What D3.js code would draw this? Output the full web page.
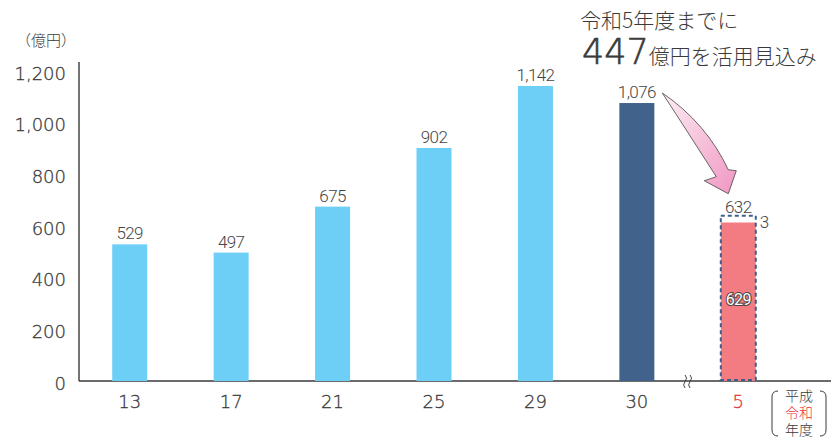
<!DOCTYPE html>
<html>
<head>
<meta charset="utf-8">
<script src="https://cdn.jsdelivr.net/npm/d3@7"></script>
<style>
  body { margin: 0; background: #fff; }
</style>
</head>
<body>
<div id="chart"></div>
<script>
// fiscal years (Heisei 13..30, Reiwa 5)
const years = ["13", "17", "21", "25", "29", "30", "5"];
const amounts = [529, 497, 675, 902, 1142, 1076, 632];
// Reiwa 5 split: used + remaining
const reiwaParts = [629, 3];
const yTicks = [0, 200, 400, 600, 800, 1000, 1200];
const legendLines = ["平成", "令和", "年度"];

const width = 831, height = 439;
const lightBlue = "#6dcff6", darkBlue = "#41628b", red = "#f27c82", ink = "#3a3a3a";
const numFont = "'DejaVu Sans ExtraLight', 'DejaVu Sans'";

const svg = d3.select("#chart")
    .append("svg")
    .attr("width", width)
    .attr("height", height)
    .style("font-family", "'Noto Sans CJK JP', sans-serif")
    .style("font-weight", 300);

const x = d3.scaleBand()
    .domain(years)
    .range([79, 789])
    .paddingInner(0.655)
    .paddingOuter(0.3275);

const y = d3.scaleLinear()
    .domain([0, 1200])
    .range([381, 71]);

const bw = x.bandwidth();

// axes lines
svg.append("line")
    .attr("x1", 79).attr("x2", 79)
    .attr("y1", y(1200) - 9).attr("y2", y(0))
    .attr("stroke", ink).attr("stroke-width", 1.4);

svg.append("line")
    .attr("x1", 79).attr("x2", width)
    .attr("y1", y(0)).attr("y2", y(0))
    .attr("stroke", ink).attr("stroke-width", 1.4);

// y tick labels
svg.selectAll(".ytick")
    .data(yTicks)
    .join("text")
    .attr("class", "ytick")
    .attr("x", 66)
    .attr("y", d => y(d) + 2)
    .attr("text-anchor", "end")
    .attr("dominant-baseline", "central")
    .style("font-family", numFont)
    .attr("font-size", "18px")
    .attr("fill", ink)
    .attr("stroke", ink)
    .attr("stroke-width", 0.3)
    .text(d => d3.format(",")(d));

svg.append("text")
    .attr("x", 46).attr("y", 46)
    .attr("text-anchor", "middle")
    .attr("font-size", "15px")
    .attr("fill", ink)
    .text("（億円）");

// x labels
svg.selectAll(".xtick")
    .data(years)
    .join("text")
    .attr("class", "xtick")
    .attr("x", d => x(d) + bw / 2)
    .attr("y", 408)
    .attr("text-anchor", "middle")
    .style("font-family", numFont)
    .attr("font-size", "18px")
    .attr("fill", d => d === "5" ? "#e8303a" : ink)
    .attr("stroke", d => d === "5" ? "#e8303a" : ink)
    .attr("stroke-width", 0.3)
    .text(d => d);

// Heisei bars
const heisei = years.slice(0, 6).map((d, i) => ({year: d, value: amounts[i]}));

svg.selectAll(".bar")
    .data(heisei)
    .join("rect")
    .attr("class", "bar")
    .attr("x", d => x(d.year))
    .attr("y", d => y(d.value))
    .attr("width", bw)
    .attr("height", d => y(0) - y(d.value))
    .attr("fill", d => d.year === "30" ? darkBlue : lightBlue);

svg.selectAll(".vlabel")
    .data(heisei)
    .join("text")
    .attr("class", "vlabel")
    .attr("x", d => x(d.year) + bw / 2)
    .attr("y", d => y(d.value) - 5)
    .attr("text-anchor", "middle")
    .style("font-family", "Roboto")
    .attr("font-size", "17px")
    .attr("letter-spacing", "-0.6px")
    .attr("fill", "#444")
    .text(d => d3.format(",")(d.value));

// Reiwa 5 bar: used part + dashed total outline
const rx = x("5");
const total = reiwaParts[0] + reiwaParts[1];
svg.append("rect")
    .attr("x", rx)
    .attr("y", y(reiwaParts[0]) + 4)
    .attr("width", bw)
    .attr("height", y(0) - y(reiwaParts[0]) - 4)
    .attr("fill", red);

svg.append("rect")
    .attr("x", rx)
    .attr("y", y(total) - 2)
    .attr("width", bw)
    .attr("height", y(0) - y(total) + 1)
    .attr("fill", "none")
    .attr("stroke", "#3d5f8a")
    .attr("stroke-width", 2)
    .attr("stroke-dasharray", "4,3");

svg.append("text")
    .attr("x", rx + bw / 2)
    .attr("y", y(total) - 5)
    .attr("text-anchor", "middle")
    .style("font-family", "Roboto")
    .attr("font-size", "17px")
    .attr("letter-spacing", "-0.6px")
    .attr("fill", "#444")
    .text(total);

svg.append("text")
    .attr("x", rx + bw + 4)
    .attr("y", y(total) + 4)
    .attr("dominant-baseline", "central")
    .style("font-family", "Roboto")
    .attr("font-size", "17px")
    .attr("fill", "#444")
    .text(reiwaParts[1]);

svg.append("text")
    .attr("x", rx + bw / 2)
    .attr("y", (y(reiwaParts[0]) + y(0)) / 2)
    .attr("text-anchor", "middle")
    .attr("dominant-baseline", "central")
    .style("font-family", "Roboto")
    .style("font-weight", 400)
    .attr("font-size", "16px")
    .attr("letter-spacing", "-0.6px")
    .attr("fill", "#fff")
    .attr("stroke", "#444")
    .attr("stroke-width", 2)
    .attr("paint-order", "stroke")
    .text(reiwaParts[0]);

// break mark on the baseline
const bx = (x("30") + bw + rx) / 2;
[-2.5, 2.5].forEach(off => {
    svg.append("path")
        .attr("d", `M${bx + off},${y(0) - 6} q3,3 0,6.5 q-3,3.5 0,6.5`)
        .attr("fill", "none")
        .attr("stroke", "#444")
        .attr("stroke-width", 1);
});

// arrow from 1,076 to 632
const defs = svg.append("defs");
const grad = defs.append("linearGradient")
    .attr("id", "pink")
    .attr("x1", "0%").attr("y1", "0%")
    .attr("x2", "100%").attr("y2", "100%");
grad.append("stop").attr("offset", "0%").attr("stop-color", "#fdeef4");
grad.append("stop").attr("offset", "100%").attr("stop-color", "#f196c2");

const tail = [x("30") + bw + 8, y(1076) - 10];
const tip = [rx + bw / 2 - 10, y(total) - 24];
const arrowPath = d3.path();
arrowPath.moveTo(tail[0], tail[1]);
arrowPath.quadraticCurveTo(tail[0] + 26, tail[1] + 40, tip[0] - 12, tip[1] - 17);
arrowPath.lineTo(tip[0] - 24, tip[1] - 13);
arrowPath.lineTo(tip[0], tip[1]);
arrowPath.lineTo(tip[0] + 8, tip[1] - 23);
arrowPath.lineTo(tip[0], tip[1] - 24);
arrowPath.quadraticCurveTo(tail[0] + 44, tail[1] + 30, tail[0], tail[1]);
arrowPath.closePath();

svg.append("path")
    .attr("d", arrowPath.toString())
    .attr("fill", "url(#pink)")
    .attr("stroke", "#444")
    .attr("stroke-width", 0.8);

// headline
svg.append("text")
    .attr("x", 580).attr("y", 28)
    .attr("font-size", "21px")
    .attr("fill", ink)
    .text("令和5年度までに");

const head = svg.append("text")
    .attr("x", 582).attr("y", 64)
    .attr("fill", ink);
head.append("tspan")
    .style("font-family", numFont)
    .attr("font-size", "35px")
    .attr("stroke", ink)
    .attr("stroke-width", 0.6)
    .text("447");
head.append("tspan")
    .attr("font-size", "21px")
    .text("億円を活用見込み");

// legend for year eras
svg.selectAll(".era")
    .data(legendLines)
    .join("text")
    .attr("class", "era")
    .attr("x", 799)
    .attr("y", (d, i) => 401 + i * 17)
    .attr("text-anchor", "middle")
    .attr("font-size", "14px")
    .attr("fill", d => d === "令和" ? "#e8303a" : ink)
    .text(d => d);

svg.append("path")
    .attr("d", "M778,391 Q772,391 772,397 L772,430 Q772,436 778,436 M820,391 Q826,391 826,397 L826,430 Q826,436 820,436")
    .attr("fill", "none")
    .attr("stroke", ink)
    .attr("stroke-width", 1);
</script>
</body>
</html>
